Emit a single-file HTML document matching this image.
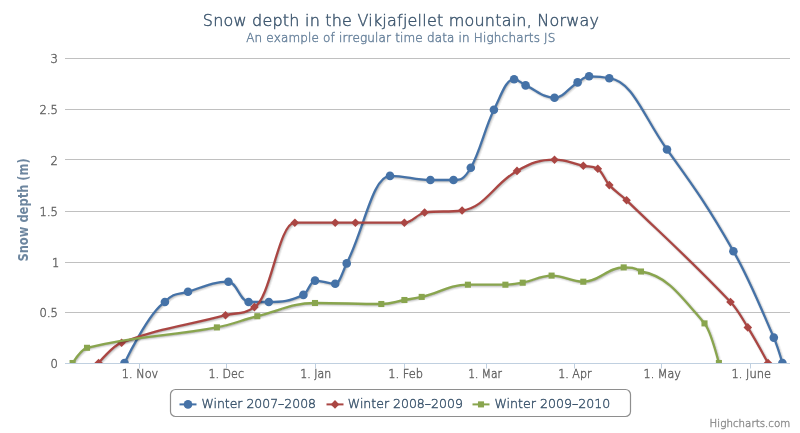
<!DOCTYPE html>
<html lang="en">
<head>
<meta charset="utf-8">
<title>Snow depth in the Vikjafjellet mountain, Norway</title>
<style>
html,body{margin:0;padding:0;background:#fff;}
body{width:800px;height:433px;overflow:hidden;}
#container{width:800px;height:433px;position:relative;overflow:hidden;will-change:transform;background:#fff;}
#container svg{display:block;font-family:"DejaVu Sans", "Liberation Sans", sans-serif;font-size:12px;}
</style>
</head>
<body>
<div id="container">
<svg width="800" height="433" viewBox="0 0 800 433">
<defs><clipPath id="cp"><rect x="0" y="0" width="725" height="305"/></clipPath></defs>
<rect x="0" y="0" width="800" height="433" fill="#FFFFFF"/>
<g class="grid" stroke="#C0C0C0" stroke-width="1" fill="none">
<path d="M 65 58.5 L 790 58.5"/>
<path d="M 65 109.5 L 790 109.5"/>
<path d="M 65 159.5 L 790 159.5"/>
<path d="M 65 211.5 L 790 211.5"/>
<path d="M 65 262.5 L 790 262.5"/>
<path d="M 65 312.5 L 790 312.5"/>
<path d="M 65 363.5 L 790 363.5"/>
</g>
<g class="axis" stroke="#C0D0E0" stroke-width="1" fill="none">
<path d="M 65 363.5 L 790 363.5"/>
<path d="M 139.5 363.5 L 139.5 368.5"/>
<path d="M 226.5 363.5 L 226.5 368.5"/>
<path d="M 315.5 363.5 L 315.5 368.5"/>
<path d="M 404.5 363.5 L 404.5 368.5"/>
<path d="M 486.5 363.5 L 486.5 368.5"/>
<path d="M 574.5 363.5 L 574.5 368.5"/>
<path d="M 661.5 363.5 L 661.5 368.5"/>
<path d="M 750.5 363.5 L 750.5 368.5"/>
</g>
<g class="series" transform="translate(65,58)" clip-path="url(#cp)" fill="none" stroke-linejoin="round">
<path d="M 59.50 305.00 C 59.50 305.00 83.74 254.20 99.90 244.00 C 109.14 233.80 113.76 236.75 123.00 233.80 C 139.16 228.63 147.24 223.70 163.40 223.70 C 171.48 223.70 175.52 244.00 183.60 244.00 C 191.68 244.00 195.72 244.00 203.80 244.00 C 217.64 244.00 224.56 243.31 238.40 236.90 C 243.04 234.75 245.36 222.60 250.00 222.60 C 258.08 222.60 262.12 225.70 270.20 225.70 C 274.80 225.70 277.10 214.45 281.70 205.40 C 299.02 171.33 307.68 117.90 325.00 117.90 C 341.16 117.90 349.24 122.00 365.40 122.00 C 374.64 122.00 379.26 122.00 388.50 122.00 C 395.42 122.00 398.88 121.82 405.80 109.80 C 415.04 93.74 419.66 70.69 428.90 51.80 C 436.98 35.29 441.02 21.30 449.10 21.30 C 453.70 21.30 456.00 25.30 460.60 27.40 C 472.16 32.66 477.94 39.70 489.50 39.70 C 498.74 39.70 503.36 30.11 512.60 24.40 C 517.20 21.55 519.50 18.30 524.10 18.30 C 532.18 18.30 536.22 18.30 544.30 20.30 C 567.38 22.30 578.92 59.34 602.00 91.50 C 628.56 128.50 641.84 146.42 668.40 193.20 C 684.56 221.66 692.64 242.73 708.80 279.60 C 712.24 287.45 717.40 305.00 717.40 305.00" stroke="rgb(0,0,0)" stroke-opacity="0.05" stroke-width="5" transform="translate(1,1)"/>
<path d="M 59.50 305.00 C 59.50 305.00 83.74 254.20 99.90 244.00 C 109.14 233.80 113.76 236.75 123.00 233.80 C 139.16 228.63 147.24 223.70 163.40 223.70 C 171.48 223.70 175.52 244.00 183.60 244.00 C 191.68 244.00 195.72 244.00 203.80 244.00 C 217.64 244.00 224.56 243.31 238.40 236.90 C 243.04 234.75 245.36 222.60 250.00 222.60 C 258.08 222.60 262.12 225.70 270.20 225.70 C 274.80 225.70 277.10 214.45 281.70 205.40 C 299.02 171.33 307.68 117.90 325.00 117.90 C 341.16 117.90 349.24 122.00 365.40 122.00 C 374.64 122.00 379.26 122.00 388.50 122.00 C 395.42 122.00 398.88 121.82 405.80 109.80 C 415.04 93.74 419.66 70.69 428.90 51.80 C 436.98 35.29 441.02 21.30 449.10 21.30 C 453.70 21.30 456.00 25.30 460.60 27.40 C 472.16 32.66 477.94 39.70 489.50 39.70 C 498.74 39.70 503.36 30.11 512.60 24.40 C 517.20 21.55 519.50 18.30 524.10 18.30 C 532.18 18.30 536.22 18.30 544.30 20.30 C 567.38 22.30 578.92 59.34 602.00 91.50 C 628.56 128.50 641.84 146.42 668.40 193.20 C 684.56 221.66 692.64 242.73 708.80 279.60 C 712.24 287.45 717.40 305.00 717.40 305.00" stroke="rgb(0,0,0)" stroke-opacity="0.10" stroke-width="3" transform="translate(1,1)"/>
<path d="M 59.50 305.00 C 59.50 305.00 83.74 254.20 99.90 244.00 C 109.14 233.80 113.76 236.75 123.00 233.80 C 139.16 228.63 147.24 223.70 163.40 223.70 C 171.48 223.70 175.52 244.00 183.60 244.00 C 191.68 244.00 195.72 244.00 203.80 244.00 C 217.64 244.00 224.56 243.31 238.40 236.90 C 243.04 234.75 245.36 222.60 250.00 222.60 C 258.08 222.60 262.12 225.70 270.20 225.70 C 274.80 225.70 277.10 214.45 281.70 205.40 C 299.02 171.33 307.68 117.90 325.00 117.90 C 341.16 117.90 349.24 122.00 365.40 122.00 C 374.64 122.00 379.26 122.00 388.50 122.00 C 395.42 122.00 398.88 121.82 405.80 109.80 C 415.04 93.74 419.66 70.69 428.90 51.80 C 436.98 35.29 441.02 21.30 449.10 21.30 C 453.70 21.30 456.00 25.30 460.60 27.40 C 472.16 32.66 477.94 39.70 489.50 39.70 C 498.74 39.70 503.36 30.11 512.60 24.40 C 517.20 21.55 519.50 18.30 524.10 18.30 C 532.18 18.30 536.22 18.30 544.30 20.30 C 567.38 22.30 578.92 59.34 602.00 91.50 C 628.56 128.50 641.84 146.42 668.40 193.20 C 684.56 221.66 692.64 242.73 708.80 279.60 C 712.24 287.45 717.40 305.00 717.40 305.00" stroke="rgb(0,0,0)" stroke-opacity="0.15" stroke-width="1" transform="translate(1,1)"/>
<path d="M 59.50 305.00 C 59.50 305.00 83.74 254.20 99.90 244.00 C 109.14 233.80 113.76 236.75 123.00 233.80 C 139.16 228.63 147.24 223.70 163.40 223.70 C 171.48 223.70 175.52 244.00 183.60 244.00 C 191.68 244.00 195.72 244.00 203.80 244.00 C 217.64 244.00 224.56 243.31 238.40 236.90 C 243.04 234.75 245.36 222.60 250.00 222.60 C 258.08 222.60 262.12 225.70 270.20 225.70 C 274.80 225.70 277.10 214.45 281.70 205.40 C 299.02 171.33 307.68 117.90 325.00 117.90 C 341.16 117.90 349.24 122.00 365.40 122.00 C 374.64 122.00 379.26 122.00 388.50 122.00 C 395.42 122.00 398.88 121.82 405.80 109.80 C 415.04 93.74 419.66 70.69 428.90 51.80 C 436.98 35.29 441.02 21.30 449.10 21.30 C 453.70 21.30 456.00 25.30 460.60 27.40 C 472.16 32.66 477.94 39.70 489.50 39.70 C 498.74 39.70 503.36 30.11 512.60 24.40 C 517.20 21.55 519.50 18.30 524.10 18.30 C 532.18 18.30 536.22 18.30 544.30 20.30 C 567.38 22.30 578.92 59.34 602.00 91.50 C 628.56 128.50 641.84 146.42 668.40 193.20 C 684.56 221.66 692.64 242.73 708.80 279.60 C 712.24 287.45 717.40 305.00 717.40 305.00" stroke="#4572A7" stroke-width="2.3"/>
</g>
<g class="markers" transform="translate(65,58)" clip-path="url(#cp)" fill="#4572A7">
<circle cx="59.50" cy="305.00" r="4.3"/>
<circle cx="99.90" cy="244.00" r="4.3"/>
<circle cx="123.00" cy="233.80" r="4.3"/>
<circle cx="163.40" cy="223.70" r="4.3"/>
<circle cx="183.60" cy="244.00" r="4.3"/>
<circle cx="203.80" cy="244.00" r="4.3"/>
<circle cx="238.40" cy="236.90" r="4.3"/>
<circle cx="250.00" cy="222.60" r="4.3"/>
<circle cx="270.20" cy="225.70" r="4.3"/>
<circle cx="281.70" cy="205.40" r="4.3"/>
<circle cx="325.00" cy="117.90" r="4.3"/>
<circle cx="365.40" cy="122.00" r="4.3"/>
<circle cx="388.50" cy="122.00" r="4.3"/>
<circle cx="405.80" cy="109.80" r="4.3"/>
<circle cx="428.90" cy="51.80" r="4.3"/>
<circle cx="449.10" cy="21.30" r="4.3"/>
<circle cx="460.60" cy="27.40" r="4.3"/>
<circle cx="489.50" cy="39.70" r="4.3"/>
<circle cx="512.60" cy="24.40" r="4.3"/>
<circle cx="524.10" cy="18.30" r="4.3"/>
<circle cx="544.30" cy="20.30" r="4.3"/>
<circle cx="602.00" cy="91.50" r="4.3"/>
<circle cx="668.40" cy="193.20" r="4.3"/>
<circle cx="708.80" cy="279.60" r="4.3"/>
<circle cx="717.40" cy="305.00" r="4.3"/>
</g>
<g class="series" transform="translate(65,58)" clip-path="url(#cp)" fill="none" stroke-linejoin="round">
<path d="M 33.60 305.00 C 33.60 305.00 47.40 288.17 56.60 284.70 C 98.16 269.05 118.94 268.34 160.50 257.20 C 172.06 254.10 177.84 257.20 189.40 249.10 C 205.56 241.00 213.64 164.70 229.80 164.70 C 245.96 164.70 254.04 164.70 270.20 164.70 C 278.28 164.70 282.32 164.70 290.40 164.70 C 310.00 164.70 319.80 164.70 339.40 164.70 C 347.48 164.70 351.52 156.50 359.60 154.50 C 374.60 152.50 382.10 154.50 397.10 152.50 C 419.06 150.50 430.04 124.97 452.00 112.90 C 467.00 104.65 474.50 101.70 489.50 101.70 C 501.02 101.70 506.78 105.38 518.30 107.80 C 524.10 109.02 527.00 107.80 532.80 110.80 C 537.40 113.80 539.70 122.07 544.30 127.10 C 551.22 134.67 554.68 135.63 561.60 142.30 C 603.16 182.39 623.94 200.42 665.50 244.00 C 672.42 251.26 675.88 258.14 682.80 269.40 C 690.88 282.54 703.00 305.00 703.00 305.00" stroke="rgb(0,0,0)" stroke-opacity="0.05" stroke-width="5" transform="translate(1,1)"/>
<path d="M 33.60 305.00 C 33.60 305.00 47.40 288.17 56.60 284.70 C 98.16 269.05 118.94 268.34 160.50 257.20 C 172.06 254.10 177.84 257.20 189.40 249.10 C 205.56 241.00 213.64 164.70 229.80 164.70 C 245.96 164.70 254.04 164.70 270.20 164.70 C 278.28 164.70 282.32 164.70 290.40 164.70 C 310.00 164.70 319.80 164.70 339.40 164.70 C 347.48 164.70 351.52 156.50 359.60 154.50 C 374.60 152.50 382.10 154.50 397.10 152.50 C 419.06 150.50 430.04 124.97 452.00 112.90 C 467.00 104.65 474.50 101.70 489.50 101.70 C 501.02 101.70 506.78 105.38 518.30 107.80 C 524.10 109.02 527.00 107.80 532.80 110.80 C 537.40 113.80 539.70 122.07 544.30 127.10 C 551.22 134.67 554.68 135.63 561.60 142.30 C 603.16 182.39 623.94 200.42 665.50 244.00 C 672.42 251.26 675.88 258.14 682.80 269.40 C 690.88 282.54 703.00 305.00 703.00 305.00" stroke="rgb(0,0,0)" stroke-opacity="0.10" stroke-width="3" transform="translate(1,1)"/>
<path d="M 33.60 305.00 C 33.60 305.00 47.40 288.17 56.60 284.70 C 98.16 269.05 118.94 268.34 160.50 257.20 C 172.06 254.10 177.84 257.20 189.40 249.10 C 205.56 241.00 213.64 164.70 229.80 164.70 C 245.96 164.70 254.04 164.70 270.20 164.70 C 278.28 164.70 282.32 164.70 290.40 164.70 C 310.00 164.70 319.80 164.70 339.40 164.70 C 347.48 164.70 351.52 156.50 359.60 154.50 C 374.60 152.50 382.10 154.50 397.10 152.50 C 419.06 150.50 430.04 124.97 452.00 112.90 C 467.00 104.65 474.50 101.70 489.50 101.70 C 501.02 101.70 506.78 105.38 518.30 107.80 C 524.10 109.02 527.00 107.80 532.80 110.80 C 537.40 113.80 539.70 122.07 544.30 127.10 C 551.22 134.67 554.68 135.63 561.60 142.30 C 603.16 182.39 623.94 200.42 665.50 244.00 C 672.42 251.26 675.88 258.14 682.80 269.40 C 690.88 282.54 703.00 305.00 703.00 305.00" stroke="rgb(0,0,0)" stroke-opacity="0.15" stroke-width="1" transform="translate(1,1)"/>
<path d="M 33.60 305.00 C 33.60 305.00 47.40 288.17 56.60 284.70 C 98.16 269.05 118.94 268.34 160.50 257.20 C 172.06 254.10 177.84 257.20 189.40 249.10 C 205.56 241.00 213.64 164.70 229.80 164.70 C 245.96 164.70 254.04 164.70 270.20 164.70 C 278.28 164.70 282.32 164.70 290.40 164.70 C 310.00 164.70 319.80 164.70 339.40 164.70 C 347.48 164.70 351.52 156.50 359.60 154.50 C 374.60 152.50 382.10 154.50 397.10 152.50 C 419.06 150.50 430.04 124.97 452.00 112.90 C 467.00 104.65 474.50 101.70 489.50 101.70 C 501.02 101.70 506.78 105.38 518.30 107.80 C 524.10 109.02 527.00 107.80 532.80 110.80 C 537.40 113.80 539.70 122.07 544.30 127.10 C 551.22 134.67 554.68 135.63 561.60 142.30 C 603.16 182.39 623.94 200.42 665.50 244.00 C 672.42 251.26 675.88 258.14 682.80 269.40 C 690.88 282.54 703.00 305.00 703.00 305.00" stroke="#AA4643" stroke-width="2.3"/>
</g>
<g class="markers" transform="translate(65,58)" clip-path="url(#cp)" fill="#AA4643">
<path d="M 33.60 300.70 L 37.90 305.00 33.60 309.30 29.30 305.00 Z"/>
<path d="M 56.60 280.40 L 60.90 284.70 56.60 289.00 52.30 284.70 Z"/>
<path d="M 160.50 252.90 L 164.80 257.20 160.50 261.50 156.20 257.20 Z"/>
<path d="M 189.40 244.80 L 193.70 249.10 189.40 253.40 185.10 249.10 Z"/>
<path d="M 229.80 160.40 L 234.10 164.70 229.80 169.00 225.50 164.70 Z"/>
<path d="M 270.20 160.40 L 274.50 164.70 270.20 169.00 265.90 164.70 Z"/>
<path d="M 290.40 160.40 L 294.70 164.70 290.40 169.00 286.10 164.70 Z"/>
<path d="M 339.40 160.40 L 343.70 164.70 339.40 169.00 335.10 164.70 Z"/>
<path d="M 359.60 150.20 L 363.90 154.50 359.60 158.80 355.30 154.50 Z"/>
<path d="M 397.10 148.20 L 401.40 152.50 397.10 156.80 392.80 152.50 Z"/>
<path d="M 452.00 108.60 L 456.30 112.90 452.00 117.20 447.70 112.90 Z"/>
<path d="M 489.50 97.40 L 493.80 101.70 489.50 106.00 485.20 101.70 Z"/>
<path d="M 518.30 103.50 L 522.60 107.80 518.30 112.10 514.00 107.80 Z"/>
<path d="M 532.80 106.50 L 537.10 110.80 532.80 115.10 528.50 110.80 Z"/>
<path d="M 544.30 122.80 L 548.60 127.10 544.30 131.40 540.00 127.10 Z"/>
<path d="M 561.60 138.00 L 565.90 142.30 561.60 146.60 557.30 142.30 Z"/>
<path d="M 665.50 239.70 L 669.80 244.00 665.50 248.30 661.20 244.00 Z"/>
<path d="M 682.80 265.10 L 687.10 269.40 682.80 273.70 678.50 269.40 Z"/>
<path d="M 703.00 300.70 L 707.30 305.00 703.00 309.30 698.70 305.00 Z"/>
</g>
<g class="series" transform="translate(65,58)" clip-path="url(#cp)" fill="none" stroke-linejoin="round">
<path d="M 7.60 305.00 C 7.60 305.00 16.24 291.22 22.00 289.80 C 73.96 276.98 99.94 279.04 151.90 269.40 C 168.06 266.40 176.14 262.22 192.30 258.20 C 215.38 252.46 226.92 245.00 250.00 245.00 C 276.52 245.00 289.78 246.00 316.30 246.00 C 325.54 246.00 330.16 243.62 339.40 242.00 C 346.32 240.78 349.78 240.57 356.70 238.90 C 375.18 234.45 384.42 226.70 402.90 226.70 C 417.90 226.70 425.40 226.70 440.40 226.70 C 447.32 226.70 450.78 226.06 457.70 224.70 C 469.26 222.42 475.04 217.60 486.60 217.60 C 499.28 217.60 505.62 223.70 518.30 223.70 C 534.46 223.70 542.54 209.40 558.70 209.40 C 565.62 209.40 569.08 209.40 576.00 213.50 C 601.40 217.60 614.10 235.57 639.50 265.40 C 645.26 272.17 653.90 305.00 653.90 305.00" stroke="rgb(0,0,0)" stroke-opacity="0.05" stroke-width="5" transform="translate(1,1)"/>
<path d="M 7.60 305.00 C 7.60 305.00 16.24 291.22 22.00 289.80 C 73.96 276.98 99.94 279.04 151.90 269.40 C 168.06 266.40 176.14 262.22 192.30 258.20 C 215.38 252.46 226.92 245.00 250.00 245.00 C 276.52 245.00 289.78 246.00 316.30 246.00 C 325.54 246.00 330.16 243.62 339.40 242.00 C 346.32 240.78 349.78 240.57 356.70 238.90 C 375.18 234.45 384.42 226.70 402.90 226.70 C 417.90 226.70 425.40 226.70 440.40 226.70 C 447.32 226.70 450.78 226.06 457.70 224.70 C 469.26 222.42 475.04 217.60 486.60 217.60 C 499.28 217.60 505.62 223.70 518.30 223.70 C 534.46 223.70 542.54 209.40 558.70 209.40 C 565.62 209.40 569.08 209.40 576.00 213.50 C 601.40 217.60 614.10 235.57 639.50 265.40 C 645.26 272.17 653.90 305.00 653.90 305.00" stroke="rgb(0,0,0)" stroke-opacity="0.10" stroke-width="3" transform="translate(1,1)"/>
<path d="M 7.60 305.00 C 7.60 305.00 16.24 291.22 22.00 289.80 C 73.96 276.98 99.94 279.04 151.90 269.40 C 168.06 266.40 176.14 262.22 192.30 258.20 C 215.38 252.46 226.92 245.00 250.00 245.00 C 276.52 245.00 289.78 246.00 316.30 246.00 C 325.54 246.00 330.16 243.62 339.40 242.00 C 346.32 240.78 349.78 240.57 356.70 238.90 C 375.18 234.45 384.42 226.70 402.90 226.70 C 417.90 226.70 425.40 226.70 440.40 226.70 C 447.32 226.70 450.78 226.06 457.70 224.70 C 469.26 222.42 475.04 217.60 486.60 217.60 C 499.28 217.60 505.62 223.70 518.30 223.70 C 534.46 223.70 542.54 209.40 558.70 209.40 C 565.62 209.40 569.08 209.40 576.00 213.50 C 601.40 217.60 614.10 235.57 639.50 265.40 C 645.26 272.17 653.90 305.00 653.90 305.00" stroke="rgb(0,0,0)" stroke-opacity="0.15" stroke-width="1" transform="translate(1,1)"/>
<path d="M 7.60 305.00 C 7.60 305.00 16.24 291.22 22.00 289.80 C 73.96 276.98 99.94 279.04 151.90 269.40 C 168.06 266.40 176.14 262.22 192.30 258.20 C 215.38 252.46 226.92 245.00 250.00 245.00 C 276.52 245.00 289.78 246.00 316.30 246.00 C 325.54 246.00 330.16 243.62 339.40 242.00 C 346.32 240.78 349.78 240.57 356.70 238.90 C 375.18 234.45 384.42 226.70 402.90 226.70 C 417.90 226.70 425.40 226.70 440.40 226.70 C 447.32 226.70 450.78 226.06 457.70 224.70 C 469.26 222.42 475.04 217.60 486.60 217.60 C 499.28 217.60 505.62 223.70 518.30 223.70 C 534.46 223.70 542.54 209.40 558.70 209.40 C 565.62 209.40 569.08 209.40 576.00 213.50 C 601.40 217.60 614.10 235.57 639.50 265.40 C 645.26 272.17 653.90 305.00 653.90 305.00" stroke="#89A54E" stroke-width="2.3"/>
</g>
<g class="markers" transform="translate(65,58)" clip-path="url(#cp)" fill="#89A54E">
<path d="M 4.56 301.96 L 10.64 301.96 10.64 308.04 4.56 308.04 Z"/>
<path d="M 18.96 286.76 L 25.04 286.76 25.04 292.84 18.96 292.84 Z"/>
<path d="M 148.86 266.36 L 154.94 266.36 154.94 272.44 148.86 272.44 Z"/>
<path d="M 189.26 255.16 L 195.34 255.16 195.34 261.24 189.26 261.24 Z"/>
<path d="M 246.96 241.96 L 253.04 241.96 253.04 248.04 246.96 248.04 Z"/>
<path d="M 313.26 242.96 L 319.34 242.96 319.34 249.04 313.26 249.04 Z"/>
<path d="M 336.36 238.96 L 342.44 238.96 342.44 245.04 336.36 245.04 Z"/>
<path d="M 353.66 235.86 L 359.74 235.86 359.74 241.94 353.66 241.94 Z"/>
<path d="M 399.86 223.66 L 405.94 223.66 405.94 229.74 399.86 229.74 Z"/>
<path d="M 437.36 223.66 L 443.44 223.66 443.44 229.74 437.36 229.74 Z"/>
<path d="M 454.66 221.66 L 460.74 221.66 460.74 227.74 454.66 227.74 Z"/>
<path d="M 483.56 214.56 L 489.64 214.56 489.64 220.64 483.56 220.64 Z"/>
<path d="M 515.26 220.66 L 521.34 220.66 521.34 226.74 515.26 226.74 Z"/>
<path d="M 555.66 206.36 L 561.74 206.36 561.74 212.44 555.66 212.44 Z"/>
<path d="M 572.96 210.46 L 579.04 210.46 579.04 216.54 572.96 216.54 Z"/>
<path d="M 636.46 262.36 L 642.54 262.36 642.54 268.44 636.46 268.44 Z"/>
<path d="M 650.86 301.96 L 656.94 301.96 656.94 308.04 650.86 308.04 Z"/>
</g>
<rect class="legend-box" x="170.5" y="389.5" width="460" height="27" rx="5" ry="5" fill="#FFFFFF" stroke="#8E8E8E" stroke-width="1.2"/>
<text x="202.80" y="25.80" font-size="16" fill="#3E576F" font-weight="200" textLength="396.23" lengthAdjust="spacing" stroke="#3E576F" stroke-width="0.45">Snow depth in the Vikjafjellet mountain, Norway</text>
<text x="246.20" y="41.50" font-size="12" fill="#6D869F" font-weight="200" textLength="309.16" lengthAdjust="spacing" stroke="#6D869F" stroke-width="0.45">An example of irregular time data in Highcharts JS</text>
<text x="50.60" y="368.00" font-size="11.5" fill="#666666" font-weight="200" stroke="#666666" stroke-width="0.45">0</text>
<text x="39.60" y="317.00" font-size="11.5" fill="#666666" font-weight="200" stroke="#666666" stroke-width="0.45">0.5</text>
<text x="52.00" y="267.00" font-size="11.5" fill="#666666" font-weight="200" stroke="#666666" stroke-width="0.45">1</text>
<text x="39.60" y="216.00" font-size="11.5" fill="#666666" font-weight="200" stroke="#666666" stroke-width="0.45">1.5</text>
<text x="50.60" y="165.00" font-size="11.5" fill="#666666" font-weight="200" stroke="#666666" stroke-width="0.45">2</text>
<text x="39.60" y="114.00" font-size="11.5" fill="#666666" font-weight="200" stroke="#666666" stroke-width="0.45">2.5</text>
<text x="50.60" y="63.00" font-size="11.5" fill="#666666" font-weight="200" stroke="#666666" stroke-width="0.45">3</text>
<text x="121.80" y="377.70" font-size="11.8" fill="#666666" font-weight="200" textLength="36.47" lengthAdjust="spacingAndGlyphs" stroke="#666666" stroke-width="0.45">1. Nov</text>
<text x="208.50" y="377.70" font-size="11.8" fill="#666666" font-weight="200" textLength="35.49" lengthAdjust="spacingAndGlyphs" stroke="#666666" stroke-width="0.45">1. Dec</text>
<text x="300.20" y="377.70" font-size="11.8" fill="#666666" font-weight="200" textLength="31.08" lengthAdjust="spacingAndGlyphs" stroke="#666666" stroke-width="0.45">1. Jan</text>
<text x="388.20" y="377.70" font-size="11.8" fill="#666666" font-weight="200" textLength="34.87" lengthAdjust="spacingAndGlyphs" stroke="#666666" stroke-width="0.45">1. Feb</text>
<text x="468.20" y="377.70" font-size="11.8" fill="#666666" font-weight="200" textLength="33.72" lengthAdjust="spacingAndGlyphs" stroke="#666666" stroke-width="0.45">1. Mar</text>
<text x="558.20" y="377.70" font-size="11.8" fill="#666666" font-weight="200" textLength="33.38" lengthAdjust="spacingAndGlyphs" stroke="#666666" stroke-width="0.45">1. Apr</text>
<text x="643.60" y="377.70" font-size="11.8" fill="#666666" font-weight="200" textLength="37.40" lengthAdjust="spacingAndGlyphs" stroke="#666666" stroke-width="0.45">1. May</text>
<text x="731.50" y="377.70" font-size="11.8" fill="#666666" font-weight="200" textLength="39.41" lengthAdjust="spacingAndGlyphs" stroke="#666666" stroke-width="0.45">1. June</text>
<text x="201.40" y="408.00" font-size="13" fill="#3E576F" font-weight="200" textLength="114.60" lengthAdjust="spacingAndGlyphs" stroke="#3E576F" stroke-width="0.45">Winter 2007–2008</text>
<text x="347.80" y="408.00" font-size="13" fill="#3E576F" font-weight="200" textLength="115.12" lengthAdjust="spacingAndGlyphs" stroke="#3E576F" stroke-width="0.45">Winter 2008–2009</text>
<text x="494.40" y="408.00" font-size="13" fill="#3E576F" font-weight="200" textLength="115.87" lengthAdjust="spacingAndGlyphs" stroke="#3E576F" stroke-width="0.45">Winter 2009–2010</text>
<text x="709.60" y="426.60" font-size="10.3" fill="#909090" font-weight="200" textLength="80.75" lengthAdjust="spacingAndGlyphs" stroke="#909090" stroke-width="0.45">Highcharts.com</text>
<text x="28.00" y="261.60" font-size="13.2" fill="#6D869F" font-weight="bold" textLength="103.43" lengthAdjust="spacingAndGlyphs" transform="rotate(270 28.00 261.60)">Snow depth (m)</text>
<path d="M 179.5 404.4 L 196.5 404.4" stroke="#4572A7" stroke-width="2" fill="none"/>
<g fill="#4572A7"><circle cx="188.00" cy="404.40" r="4.3"/></g>
<path d="M 326.5 404.4 L 343.5 404.4" stroke="#AA4643" stroke-width="2" fill="none"/>
<g fill="#AA4643"><path d="M 335.00 400.10 L 339.30 404.40 335.00 408.70 330.70 404.40 Z"/></g>
<path d="M 472.5 404.4 L 489.5 404.4" stroke="#89A54E" stroke-width="2" fill="none"/>
<g fill="#89A54E"><path d="M 477.96 401.36 L 484.04 401.36 484.04 407.44 477.96 407.44 Z"/></g>
</svg>
</div>
</body>
</html>
